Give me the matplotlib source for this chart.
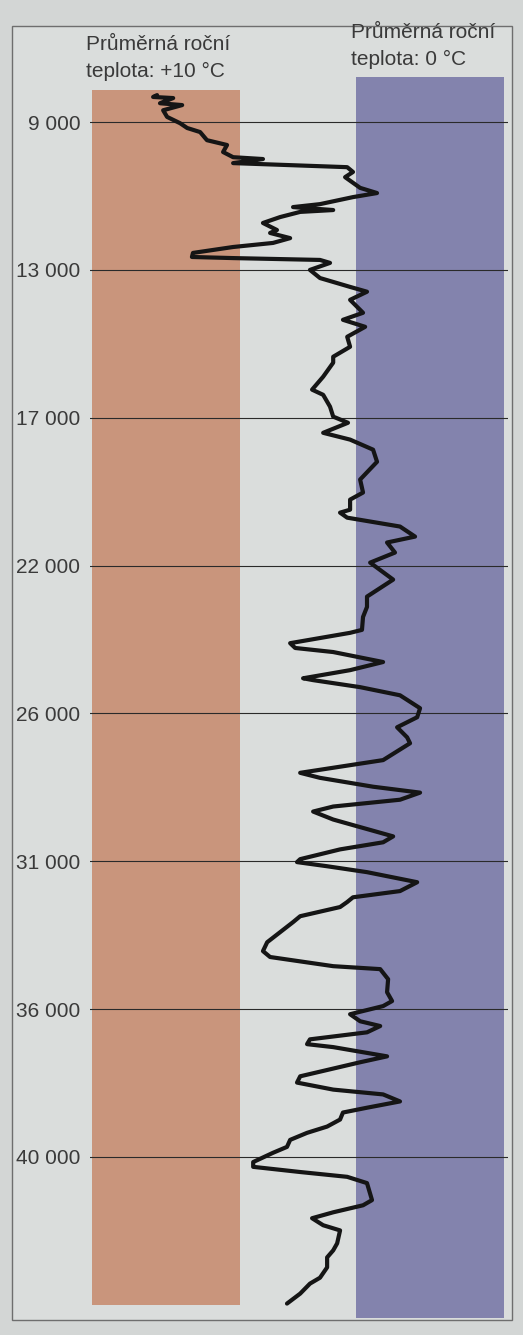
"""
Průměrná roční teplota - temperature curve between two reference bands
(+10 °C and 0 °C), age scale in years on the left.
"""
import numpy as np
import matplotlib.pyplot as plt
from matplotlib.patches import Rectangle

OUTPUT = "out.png"

# age scale (years), ticks are equally spaced on the chart
TICK_YEARS = [9000, 13000, 17000, 22000, 26000, 31000, 36000, 40000]
TICK_LABELS = [f"{y:,}".replace(",", " ") for y in TICK_YEARS]

# reference bands
BAND_TEMPS = [10, 0]
BAND_LABELS = ["Průměrná roční\nteplota: +10 °C", "Průměrná roční\nteplota: 0 °C"]

# curve
YEARS = [
    8270, 8320, 8350, 8490, 8540, 8680, 8860, 9030, 9160, 9270,
    9490, 9620, 9810, 9950, 10000, 10110, 10220, 10350, 10490, 10780,
    10920, 11030, 11220, 11300, 11380, 11430, 11570, 11730, 11920, 12000,
    12140, 12270, 12380, 12540, 12650, 12680, 12730, 12810, 13000, 13220,
    13460, 13590, 13810, 14160, 14350, 14540, 14810, 15080, 15350, 15510,
    15890, 16240, 16380, 16700, 16970, 17170, 17510, 17740, 18080, 18490,
    19090, 19530, 19770, 20110, 20210, 20380, 20680, 21020, 21220, 21560,
    21900, 22380, 22840, 23120, 23390, 23740, 23820, 24100, 24230, 24340,
    24610, 24830, 25050, 25100, 25290, 25510, 25860, 26130, 26470, 26810,
    27010, 27580, 27750, 28010, 28180, 28480, 28680, 28920, 29150, 29320,
    29590, 30160, 30360, 30600, 30930, 31030, 31170, 31370, 31710, 32010,
    32220, 32380, 32550, 32860, 33060, 33740, 34040, 34240, 34550, 34650,
    34990, 35430, 35730, 35900, 36140, 36330, 36460, 36630, 36820, 36950,
    37030, 37280, 37440, 37820, 37990, 38180, 38310, 38500, 38670, 38800,
    38990, 39180, 39350, 39540, 39730, 39890, 40140, 40270, 40410, 40540,
    40710, 41170, 41310, 41500, 41660, 41850, 41990, 42340, 42530, 42720,
    42990, 43270, 43430, 43700, 43970,
]
TEMPS = [
    10.34, 10.49, 9.73, 10.23, 9.39, 10.11, 9.96, 9.47, 9.20, 8.71,
    8.45, 7.69, 7.84, 7.46, 6.33, 7.46, 3.14, 2.92, 3.22, 2.65,
    2.01, 2.92, 4.17, 5.19, 3.67, 4.92, 5.68, 6.33, 5.80, 6.06,
    5.30, 5.95, 7.46, 8.98, 9.02, 7.46, 4.17, 3.79, 4.55, 4.17,
    3.03, 2.39, 3.03, 2.54, 3.30, 2.46, 3.14, 3.03, 3.67, 3.67,
    4.05, 4.47, 4.05, 3.79, 3.67, 3.11, 4.05, 3.03, 2.16, 2.01,
    2.65, 2.54, 3.03, 3.03, 3.41, 3.14, 1.14, 0.57, 1.63, 1.33,
    2.27, 1.40, 2.39, 2.39, 2.54, 2.58, 3.03, 5.30, 5.11, 3.67,
    1.78, 3.03, 4.81, 4.43, 2.65, 1.14, 0.38, 0.49, 1.25, 0.87,
    0.76, 1.78, 3.03, 4.92, 4.17, 2.16, 0.38, 1.14, 3.67, 4.43,
    3.67, 1.40, 1.78, 3.41, 4.92, 5.04, 3.90, 2.39, 0.49, 1.14,
    2.92, 3.14, 3.41, 4.92, 5.19, 6.17, 6.33, 6.06, 3.67, 1.89,
    1.59, 1.63, 1.44, 1.78, 3.03, 2.65, 1.89, 2.39, 4.55, 4.66,
    3.67, 1.63, 2.65, 4.92, 5.04, 3.67, 1.78, 1.14, 2.39, 3.30,
    3.41, 3.90, 4.66, 5.30, 5.42, 5.95, 6.70, 6.70, 4.92, 3.14,
    2.39, 2.20, 2.54, 3.67, 4.47, 4.05, 3.41, 3.52, 3.67, 3.90,
    3.90, 4.17, 4.55, 4.92, 5.42,
]

ORANGE = "#c9957c"
PURPLE = "#8383ad"
BG = "#d3d6d5"
PANEL = "#dadddc"
FONT = ["Liberation Sans Narrow", "Liberation Sans", "DejaVu Sans"]
FS = 15

_pos = np.arange(len(TICK_YEARS), dtype=float)
_top_step = TICK_YEARS[1] - TICK_YEARS[0]
_bot_step = TICK_YEARS[-1] - TICK_YEARS[-2]


def age_forward(y):
    y = np.asarray(y, dtype=float)
    p = np.interp(y, TICK_YEARS, _pos)
    p = np.where(y < TICK_YEARS[0], (y - TICK_YEARS[0]) / _top_step, p)
    p = np.where(y > TICK_YEARS[-1], _pos[-1] + (y - TICK_YEARS[-1]) / _bot_step, p)
    return p


def age_inverse(p):
    p = np.asarray(p, dtype=float)
    y = np.interp(p, _pos, TICK_YEARS)
    y = np.where(p < 0, TICK_YEARS[0] + p * _top_step, y)
    y = np.where(p > _pos[-1], TICK_YEARS[-1] + (p - _pos[-1]) * _bot_step, y)
    return y


def main():
    W, H = 523, 1335
    fig = plt.figure(figsize=(W / 100, H / 100), dpi=100, facecolor=BG)

    # outer frame of the printed figure
    fig.add_artist(Rectangle(
        (12 / W, 1 - 1320 / H), 500 / W, 1294 / H,
        transform=fig.transFigure, facecolor=PANEL,
        edgecolor="#6e6e6e", lw=1.0, zorder=-1,
    ))

    ax = fig.add_axes([90 / W, 1 - 1318 / H, 418 / W, 1241 / H])
    ax.patch.set_visible(False)
    ax.set_yscale("function", functions=(age_forward, age_inverse))
    ax.set_xlim(12.88, -2.95)
    ax.set_ylim(44360, 7780)

    half = 2.8
    ax.axvspan(BAND_TEMPS[0] - half, BAND_TEMPS[0] + half,
               ymin=0.0105, ymax=0.9895, color=ORANGE, lw=0, zorder=1)
    ax.axvspan(BAND_TEMPS[1] - half, BAND_TEMPS[1] + half,
               ymin=0, ymax=1, color=PURPLE, lw=0, zorder=1)

    for y in TICK_YEARS:
        ax.axhline(y, color="#2a2a2a", lw=0.8, zorder=2)

    ax.plot(TEMPS, YEARS, color="#151515", lw=3.0,
            solid_joinstyle="round", solid_capstyle="round", zorder=3)

    ax.set_yticks(TICK_YEARS, TICK_LABELS, family=FONT, fontsize=FS,
                  color="#3a3a3a")
    ax.yaxis.set_minor_locator(plt.NullLocator())
    ax.tick_params(axis="y", length=0, pad=7)
    ax.set_xticks([])
    for sp in ax.spines.values():
        sp.set_visible(False)

    fig.text(86 / W, 1 - 35 / H, BAND_LABELS[0], family=FONT, fontsize=FS,
             color="#3a3a3a", ha="left", va="top", linespacing=1.5)
    fig.text(351 / W, 1 - 23 / H, BAND_LABELS[1], family=FONT, fontsize=FS,
             color="#3a3a3a", ha="left", va="top", linespacing=1.5)

    fig.savefig(OUTPUT, dpi=100, facecolor=BG)


if __name__ == "__main__":
    main()
